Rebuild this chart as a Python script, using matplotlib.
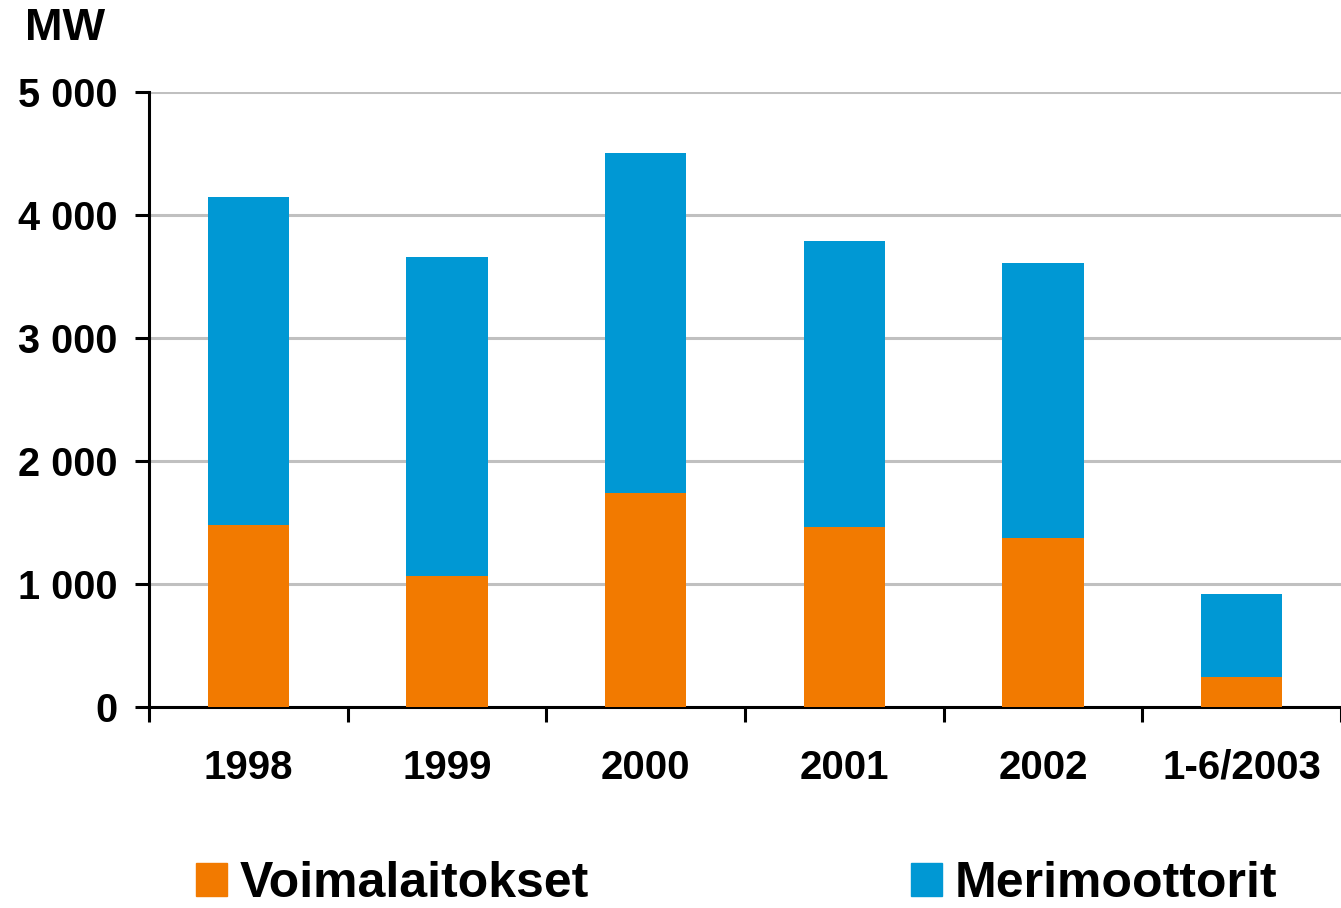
import numpy as np
import matplotlib
matplotlib.use("Agg")
import matplotlib.pyplot as plt
from matplotlib.patches import Patch

# data (MW)
years = ["1998", "1999", "2000", "2001", "2002", "1-6/2003"]
voimalaitokset = [1480, 1065, 1740, 1463, 1374, 244]
merimoottorit = [2666, 2594, 2764, 2326, 2236, 675]
yticks = [0, 1000, 2000, 3000, 4000, 5000]
ytick_labels = ["0", "1 000", "2 000", "3 000", "4 000", "5 000"]

c_orange = "#F27A00"
c_blue = "#0098D4"

plt.rcParams['font.family'] = ['Liberation Sans', 'DejaVu Sans']
plt.rcParams['font.weight'] = 'bold'

fig = plt.figure(figsize=(13.41, 9.08), dpi=100)
ax = fig.add_axes([149 / 1341, 1 - 707 / 908, 1 - 149 / 1341, (707 - 92) / 908])

x = np.arange(len(years))
ax.bar(x, voimalaitokset, width=0.41, color=c_orange, zorder=3)
ax.bar(x, merimoottorit, width=0.41, bottom=voimalaitokset, color=c_blue, zorder=3)

ax.set_ylim(0, 5000)
ax.set_xlim(-0.5, 5.44)
ax.set_yticks(yticks)
ax.set_yticklabels(ytick_labels, fontsize=28.5, fontweight='bold')
ax.yaxis.grid(True, color="#C0C0C0", linewidth=2.2, zorder=0)

# category ticks sit between the bars
ax.set_xticks(np.arange(len(years) + 1) - 0.5)
ax.set_xticklabels([])
ax.set_xticks(x, minor=True)
ax.set_xticklabels(years, minor=True, fontsize=29, fontweight='bold')
ax.tick_params(axis='x', which='minor', length=0, pad=30)
ax.tick_params(axis='x', which='major', length=11, width=2.2, direction='out')
ax.tick_params(axis='y', length=10, width=2.2, direction='out', pad=13)

for s in ['top', 'right']:
    ax.spines[s].set_visible(False)
for s in ['left', 'bottom']:
    ax.spines[s].set_linewidth(2.2)

fig.text(25 / 1341, 1 - 29 / 908, "MW", fontsize=32.5, fontweight='bold', va='center', ha='left')

handles = [Patch(color=c_orange), Patch(color=c_blue)]
fig.legend(handles, ["Voimalaitokset", "Merimoottorit"], ncol=2, frameon=False,
           loc='center left', bbox_to_anchor=(196 / 1341, 1 - 884 / 908),
           prop={'size': 36, 'weight': 'bold'}, handlelength=0.62, handleheight=0.62,
           handletextpad=0.25, columnspacing=6.45, borderaxespad=0, borderpad=0)

fig.savefig("out.png", dpi=100)
